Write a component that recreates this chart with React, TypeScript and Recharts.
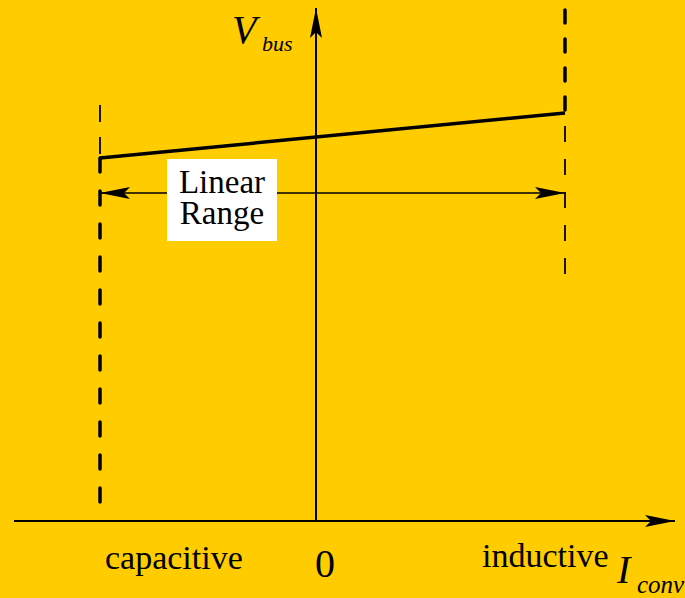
import { ComposedChart, Line, ReferenceArea, ReferenceDot, XAxis, YAxis } from 'recharts';

// operating characteristic, I_conv (x) vs V_bus (y), arbitrary units
const capLimit = -2.16;
const indLimit = 2.49;

const characteristic = [
  { i: capLimit, v: 3.63 },
  { i: indLimit, v: 4.08 },
];
const capBoundThin = [
  { i: capLimit, v: 4.16 },
  { i: capLimit, v: 3.63 },
];
const capBoundThick = [
  { i: capLimit, v: 3.63 },
  { i: capLimit, v: 0.13 },
];
const indBoundThick = [
  { i: indLimit, v: 5.11 },
  { i: indLimit, v: 4.08 },
];
const indBoundThin = [
  { i: indLimit, v: 4.08 },
  { i: indLimit, v: 2.46 },
];
const linearRange = [
  { i: capLimit, v: 3.28 },
  { i: indLimit, v: 3.28 },
];
const xAxisLine = [
  { i: -3.02, v: 0 },
  { i: 3.59, v: 0 },
];
const yAxisLine = [
  { i: 0, v: 0 },
  { i: 0, v: 5.13 },
];

const INK = '#000';
const BG = '#FFCC00';
const SERIF = '"Liberation Serif", "Times New Roman", serif';

// barbed arrowhead, tip at (cx, cy), pointing along (dx, dy)
const arrowHead = (cx: number, cy: number, dx: number, dy: number, key: string) => {
  const L = 30, W = 6, N = 24;
  const nx = -dy, ny = dx;
  const pts = [
    [cx, cy],
    [cx - L * dx + W * nx, cy - L * dy + W * ny],
    [cx - N * dx, cy - N * dy],
    [cx - L * dx - W * nx, cy - L * dy - W * ny],
  ];
  return <polygon key={key} points={pts.map((p) => p.join(',')).join(' ')} fill={INK} />;
};

const endArrow = (dx: number, dy: number) => (props: any) => {
  const { cx, cy, index } = props;
  if (index !== 1) return <g key={`e${index}`} />;
  return arrowHead(cx, cy, dx, dy, `a${index}`);
};

const bothArrows = (props: any) => {
  const { cx, cy, index } = props;
  return arrowHead(cx, cy, index === 0 ? -1 : 1, 0, `b${index}`);
};

const BoxLabel = (props: any) => {
  const { x, y, width } = props.viewBox;
  const mid = x + width / 2;
  return (
    <g fontFamily={SERIF} fontSize={33} fill={INK}>
      <text x={mid} y={y + 34} textAnchor="middle">Linear</text>
      <text x={mid} y={y + 65} textAnchor="middle">Range</text>
    </g>
  );
};

const textAt = (node: (cx: number, cy: number) => any) => (props: any) => node(props.cx, props.cy);

export default function App() {
  return (
    <div style={{ position: 'absolute', left: 0, top: 0, width: 685, height: 598, background: BG }}>
      <ComposedChart width={685} height={598} margin={{ top: 0, right: 0, bottom: 0, left: 0 }}>
        <XAxis type="number" dataKey="i" domain={[-3.16, 3.69]} hide allowDataOverflow />
        <YAxis type="number" dataKey="v" domain={[-0.77, 5.21]} hide allowDataOverflow />

        <Line data={xAxisLine} dataKey="v" stroke={INK} strokeWidth={2} dot={endArrow(1, 0)} activeDot={false} isAnimationActive={false} />
        <Line data={yAxisLine} dataKey="v" stroke={INK} strokeWidth={2} dot={endArrow(0, -1)} activeDot={false} isAnimationActive={false} />

        <Line data={capBoundThin} dataKey="v" stroke={INK} strokeWidth={1.8} strokeDasharray="17 15" dot={false} activeDot={false} isAnimationActive={false} />
        <Line data={capBoundThick} dataKey="v" stroke={INK} strokeWidth={3.5} strokeLinecap="round" strokeDasharray="14 19" dot={false} activeDot={false} isAnimationActive={false} />
        <Line data={indBoundThick} dataKey="v" stroke={INK} strokeWidth={3.5} strokeLinecap="round" strokeDasharray="13 16" dot={false} activeDot={false} isAnimationActive={false} />
        <Line data={indBoundThin} dataKey="v" stroke={INK} strokeWidth={1.8} strokeDasharray="16 17" strokeDashoffset={20} dot={false} activeDot={false} isAnimationActive={false} />

        <Line data={linearRange} dataKey="v" stroke={INK} strokeWidth={1.6} dot={bothArrows} activeDot={false} isAnimationActive={false} />
        <Line data={characteristic} dataKey="v" stroke={INK} strokeWidth={3.5} dot={false} activeDot={false} isAnimationActive={false} />

        <ReferenceArea x1={-1.49} x2={-0.39} y1={2.8} y2={3.62} fill="#fff" fillOpacity={1} stroke="none" label={<BoxLabel />} zIndex={1000} />

        <ReferenceDot x={-0.84} y={4.78} r={0} shape={textAt((cx, cy) => (
          <text fontFamily={SERIF} fontStyle="italic" fill={INK}>
            <tspan x={cx} y={cy} fontSize={40}>V</tspan>
            <tspan x={cx + 30} y={cy + 8} fontSize={22}>bus</tspan>
          </text>
        ))} />
        <ReferenceDot x={-2.11} y={-0.48} r={0} shape={textAt((cx, cy) => (
          <text x={cx} y={cy} fontFamily={SERIF} fontSize={34} fill={INK}>capacitive</text>
        ))} />
        <ReferenceDot x={0.09} y={-0.56} r={0} shape={textAt((cx, cy) => (
          <text x={cx} y={cy} fontFamily={SERIF} fontSize={40} textAnchor="middle" fill={INK}>0</text>
        ))} />
        <ReferenceDot x={1.66} y={-0.46} r={0} shape={textAt((cx, cy) => (
          <text x={cx} y={cy} fontFamily={SERIF} fontSize={34} fill={INK}>inductive</text>
        ))} />
        <ReferenceDot x={3.01} y={-0.62} r={0} shape={textAt((cx, cy) => (
          <text fontFamily={SERIF} fontStyle="italic" fill={INK}>
            <tspan x={cx} y={cy} fontSize={40}>I</tspan>
            <tspan x={cx + 20} y={cy + 10} fontSize={25}>conv</tspan>
          </text>
        ))} />
      </ComposedChart>
    </div>
  );
}
